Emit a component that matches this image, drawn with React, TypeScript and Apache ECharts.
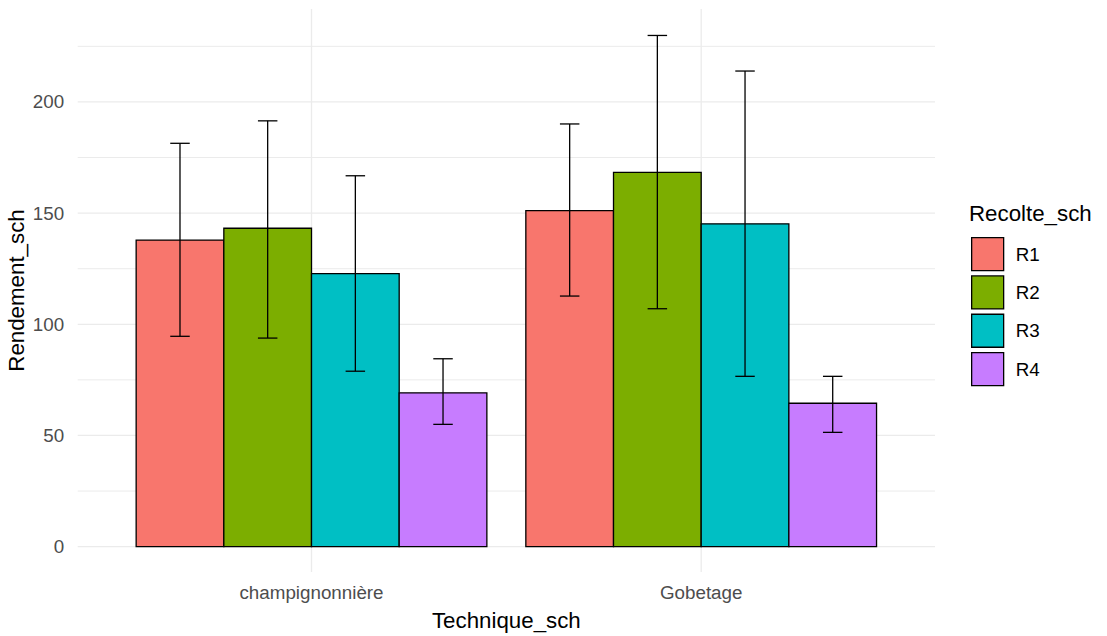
import React, { useEffect, useRef } from "react";
import * as echarts from "echarts";

const categories = ["champignonnière", "Gobetage"];
const recoltes = ["R1", "R2", "R3", "R4"];
const colors = ["#F8766D", "#7CAE00", "#00BFC4", "#C77CFF"];

const meanR1 = [137.9, 151.1];
const meanR2 = [143.2, 168.3];
const meanR3 = [122.8, 145.2];
const meanR4 = [69.2, 64.5];

const lowR1 = [94.6, 112.7];
const lowR2 = [93.8, 107.0];
const lowR3 = [78.9, 76.6];
const lowR4 = [55.0, 51.4];

const highR1 = [181.4, 190.1];
const highR2 = [191.5, 229.9];
const highR3 = [166.8, 213.9];
const highR4 = [84.5, 76.6];

const yTicks = [0, 50, 100, 150, 200];
const yMajorGrid = [0, 50, 100, 150, 200];
const yMinorGrid = [25, 75, 125, 175, 225];

const means = [meanR1, meanR2, meanR3, meanR4];
const lows = [lowR1, lowR2, lowR3, lowR4];
const highs = [highR1, highR2, highR3, highR4];

const FONT = "'Liberation Sans', Arial, sans-serif";
const BAR_W = 0.225;
const CAP_W = 0.05;
const LABEL_SIZE = 18.8;
const TITLE_SIZE = 22.3;

export default function App() {
  const ref = useRef<HTMLDivElement>(null);
  useEffect(() => {
    document.body.style.margin = "0";
    if (!ref.current) return;
    const chart = echarts.init(ref.current, null, { renderer: "svg" });

    const barSeries = recoltes.map((name, k) => {
      const offset = (k - 1.5) * BAR_W;
      return {
        type: "custom",
        name,
        z: 3,
        itemStyle: { color: colors[k] },
        data: categories.map((_, i) => [i + 1, means[k][i], lows[k][i], highs[k][i]]),
        renderItem: (params: any, api: any) => {
          const x = api.value(0) + offset;
          const v = api.value(1);
          const lo = api.value(2);
          const hi = api.value(3);
          const [xl, y0] = api.coord([x - BAR_W / 2, 0]);
          const [xr, yv] = api.coord([x + BAR_W / 2, v]);
          const [xc, ylo] = api.coord([x, lo]);
          const [, yhi] = api.coord([x, hi]);
          const capHalf = api.size([CAP_W, 0])[0] / 2;
          const ls = { stroke: "#000", lineWidth: 1.3 };
          return {
            type: "group",
            children: [
              {
                type: "rect",
                shape: { x: xl, y: yv, width: xr - xl, height: y0 - yv },
                style: { fill: colors[k], stroke: "#000", lineWidth: 1.3 },
              },
              { type: "line", shape: { x1: xc, y1: ylo, x2: xc, y2: yhi }, style: ls },
              { type: "line", shape: { x1: xc - capHalf, y1: yhi, x2: xc + capHalf, y2: yhi }, style: ls },
              { type: "line", shape: { x1: xc - capHalf, y1: ylo, x2: xc + capHalf, y2: ylo }, style: ls },
            ],
          };
        },
      };
    });

    // grid lines: [x, y, orientation(0 = horizontal, 1 = vertical), width]
    const gridData = [
      ...yMajorGrid.map((v) => [1.5, v, 0, 1.3]),
      ...yMinorGrid.map((v) => [1.5, v, 0, 1.0]),
      ...categories.map((_, i) => [i + 1, 100, 1, 1.3]),
    ];
    const gridSeries = {
      type: "custom",
      name: "__grid",
      z: 0,
      silent: true,
      data: gridData,
      renderItem: (params: any, api: any) => {
        const cs = params.coordSys;
        const [px, py] = api.coord([api.value(0), api.value(1)]);
        const w = api.value(3);
        const shape =
          api.value(2) === 0
            ? { x1: cs.x, y1: py, x2: cs.x + cs.width, y2: py }
            : { x1: px, y1: cs.y, x2: px, y2: cs.y + cs.height };
        return { type: "line", shape, style: { stroke: "#EBEBEB", lineWidth: w } };
      },
    };

    chart.setOption({
      animation: false,
      backgroundColor: "#fff",
      textStyle: { fontFamily: FONT },
      title: {
        text: "Recolte_sch",
        left: 969,
        top: 202,
        padding: 0,
        textStyle: { fontSize: TITLE_SIZE, fontWeight: "normal", color: "#000", fontFamily: FONT },
      },
      legend: {
        orient: "vertical",
        left: 971,
        top: 237,
        padding: 0,
        itemWidth: 32,
        itemHeight: 33,
        itemGap: 4,
        selectedMode: false,
        textStyle: { fontSize: LABEL_SIZE, color: "#000", fontFamily: FONT, padding: [0, 0, 0, 7] },
        data: recoltes.map((name, k) => ({
          name,
          icon: "rect",
          itemStyle: { color: colors[k], borderColor: "#000", borderWidth: 1.3 },
        })),
      },
      grid: {
        left: 77.7,
        top: 9,
        width: 857.3,
        bottom: 64,
        containLabel: false,
        outerBoundsMode: "none",
      },
      xAxis: {
        type: "value",
        min: 0.4,
        max: 2.6,
        name: "Technique_sch",
        nameLocation: "middle",
        nameGap: 37,
        nameMoveOverlap: false,
        nameTextStyle: { fontSize: TITLE_SIZE, color: "#000", fontFamily: FONT },
        axisLine: { show: false },
        axisTick: { show: false },
        splitLine: { show: false },
        axisLabel: {
          customValues: categories.map((_, i) => i + 1),
          formatter: (v: number) => categories[Math.round(v) - 1] ?? "",
          fontSize: LABEL_SIZE,
          color: "#4D4D4D",
          margin: 11,
          fontFamily: FONT,
        },
      },
      yAxis: {
        type: "value",
        min: -11.4,
        max: 241.8,
        name: "Rendement_sch",
        nameLocation: "middle",
        nameRotate: 90,
        nameGap: 50,
        nameMoveOverlap: false,
        nameTextStyle: { fontSize: TITLE_SIZE, color: "#000", fontFamily: FONT },
        axisLine: { show: false },
        axisTick: { show: false },
        splitLine: { show: false },
        axisLabel: {
          customValues: yTicks,
          fontSize: LABEL_SIZE,
          color: "#4D4D4D",
          margin: 13.5,
          fontFamily: FONT,
        },
      },
      series: [gridSeries, ...barSeries],
    });
    return () => chart.dispose();
  }, []);
  return <div ref={ref} style={{ width: 1107, height: 636 }} />;
}
